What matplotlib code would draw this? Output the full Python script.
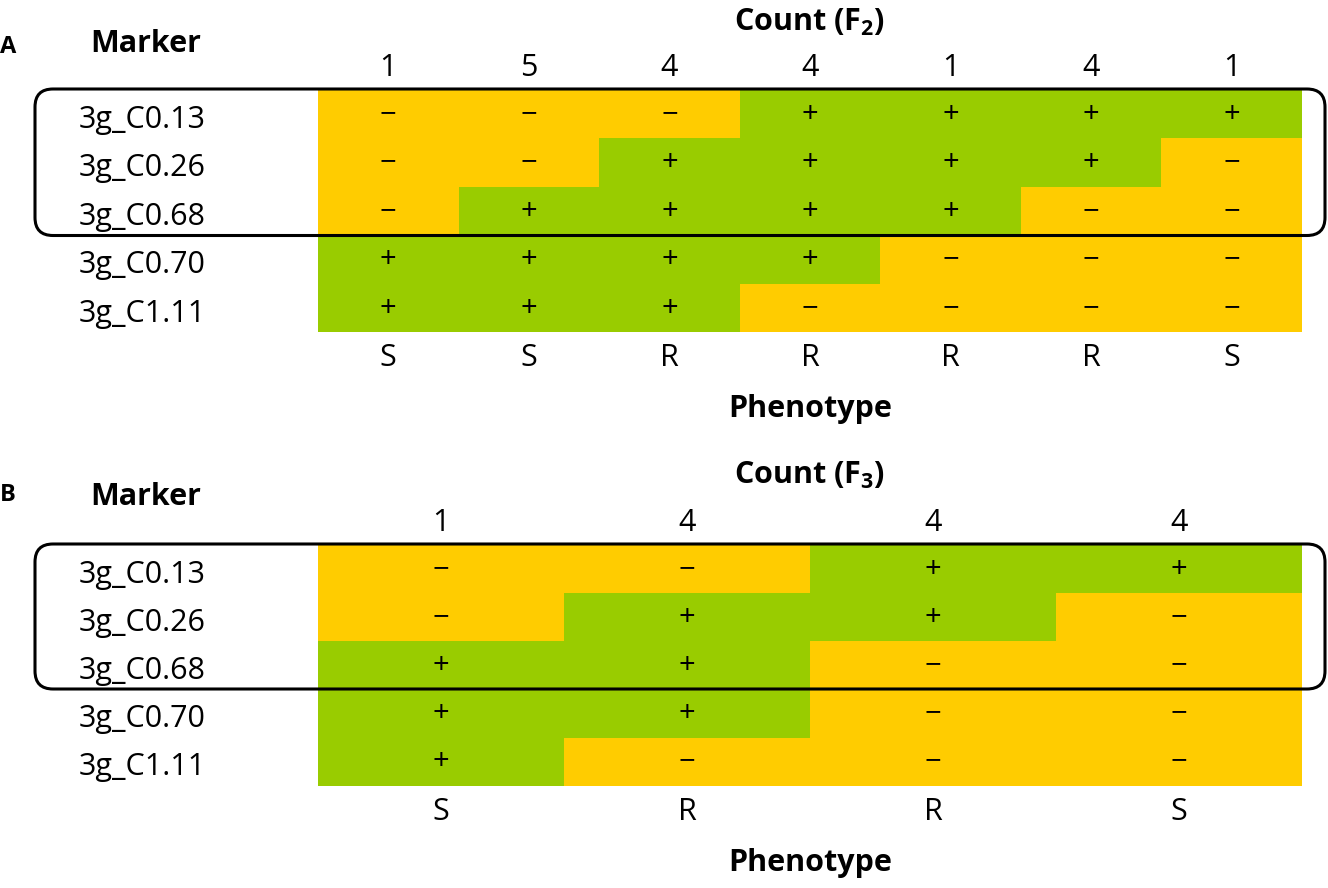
import matplotlib
matplotlib.use("Agg")
import matplotlib.pyplot as plt
import numpy as np
from matplotlib.colors import ListedColormap
from matplotlib.patches import FancyBboxPatch
from matplotlib import transforms

plt.rcParams["font.family"] = ["Open Sans", "DejaVu Sans"]
plt.rcParams["mathtext.fontset"] = "custom"
plt.rcParams["mathtext.rm"] = "Open Sans"
plt.rcParams["mathtext.bf"] = "Open Sans:bold"

# data
markers = ["3g_C0.13", "3g_C0.26", "3g_C0.68", "3g_C0.70", "3g_C1.11"]

f2_counts = [1, 5, 4, 4, 1, 4, 1]
f2_pheno = ["S", "S", "R", "R", "R", "R", "S"]
f2_geno = [
    [0, 0, 0, 1, 1, 1, 1],
    [0, 0, 1, 1, 1, 1, 0],
    [0, 1, 1, 1, 1, 0, 0],
    [1, 1, 1, 1, 0, 0, 0],
    [1, 1, 1, 0, 0, 0, 0],
]

f3_counts = [1, 4, 4, 4]
f3_pheno = ["S", "R", "R", "S"]
f3_geno = [
    [0, 0, 1, 1],
    [0, 1, 1, 0],
    [1, 1, 0, 0],
    [1, 1, 0, 0],
    [1, 0, 0, 0],
]

YELLOW = "#ffcc00"
GREEN = "#99cc00"
W, H = 1328, 888
FS = 22

fig = plt.figure(figsize=(W / 100, H / 100), dpi=100)


def fx(px):
    return px / W


def fy(py):
    return 1 - py / H


def draw_panel(gen, counts, pheno, top, bottom, box_top, box_bottom):
    ax = fig.add_axes([fx(318), fy(bottom), fx(1302) - fx(318), fy(top) - fy(bottom)])
    geno = np.array(gen)
    nrow, ncol = geno.shape
    ax.pcolormesh(np.arange(ncol + 1), np.arange(nrow + 1), geno,
                  cmap=ListedColormap([YELLOW, GREEN]), vmin=0, vmax=1)
    ax.set_xlim(0, ncol)
    ax.set_ylim(nrow, 0)
    ax.axis("off")

    for r in range(nrow):
        for c in range(ncol):
            sign = "+" if geno[r, c] else "\u2212"
            ax.text(c + 0.5, r + 0.5, sign, ha="center", va="center", fontsize=21)

    # marker names at fixed x, baseline a bit below row centre
    row_h = (bottom - top) / nrow
    trans = transforms.blended_transform_factory(fig.transFigure, ax.transData)
    for r, name in enumerate(markers):
        ax.text(fx(79), r + 0.5 + 13.5 / row_h, name, transform=trans, ha="left",
                va="baseline", fontsize=FS)

    # counts above, phenotypes below
    ttop = transforms.blended_transform_factory(ax.transData, fig.transFigure)
    for c in range(ncol):
        ax.text(c + 0.5, fy(top - 22), str(counts[c]), transform=ttop,
                ha="center", va="center", fontsize=FS)
        ax.text(c + 0.5, fy(bottom + 26), pheno[c], transform=ttop,
                ha="center", va="center", fontsize=FS)

    box = FancyBboxPatch((0.35, (H - box_bottom) / 100), 12.9, (box_bottom - box_top) / 100,
                         boxstyle="round,pad=0,rounding_size=0.18",
                         transform=fig.dpi_scale_trans, facecolor="none",
                         edgecolor="black", linewidth=2.2, zorder=5)
    fig.add_artist(box)
    return ax


draw_panel(f2_geno, f2_counts, f2_pheno, 90, 332.5, 89, 235.5)
draw_panel(f3_geno, f3_counts, f3_pheno, 545, 786, 544, 689)

# panel letters and headers
fig.text(fx(0), fy(47), "A", fontsize=17, fontweight="bold", va="center")
fig.text(fx(0), fy(495), "B", fontsize=17, fontweight="bold", va="center")
fig.text(fx(90), fy(44), "Marker", fontsize=FS, fontweight="bold", va="center")
fig.text(fx(90), fy(497), "Marker", fontsize=FS, fontweight="bold", va="center")
fig.text(fx(810), fy(31), r"Count (F$_\mathbf{2}$)", fontsize=FS, fontweight="bold",
         ha="center", va="baseline")
fig.text(fx(810), fy(484), r"Count (F$_\mathbf{3}$)", fontsize=FS, fontweight="bold",
         ha="center", va="baseline")
fig.text(fx(810), fy(417), "Phenotype", fontsize=FS, fontweight="bold",
         ha="center", va="baseline")
fig.text(fx(810), fy(871), "Phenotype", fontsize=FS, fontweight="bold",
         ha="center", va="baseline")

fig.savefig("out.png", dpi=100)
